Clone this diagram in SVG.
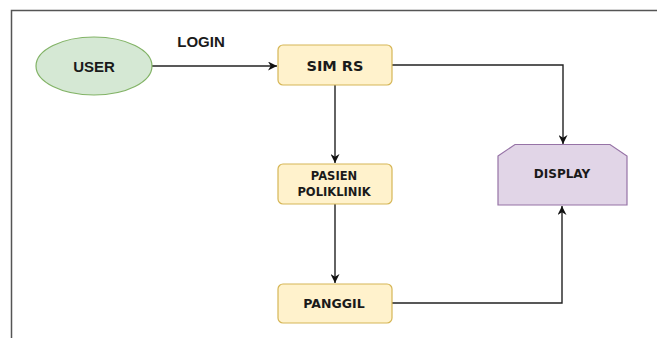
<svg xmlns="http://www.w3.org/2000/svg" width="657" height="338" viewBox="0 0 657 338">
<defs>
<style>
.frame{stroke:#555;stroke-width:1.5;fill:none}
.edge{stroke:#222;stroke-width:1.4;fill:none}
.proc{fill:#fff2cc;stroke:#d6b656;stroke-width:1.2}
.t{font-family:"DejaVu Sans",Verdana,sans-serif;font-weight:bold;fill:#1a1a1a;text-anchor:middle}
.a{font-family:"Liberation Sans",Arial,sans-serif;font-weight:bold;fill:#1a1a1a;text-anchor:middle}
</style>
<marker id="arr" viewBox="0 0 10 10" refX="10" refY="5" markerWidth="9" markerHeight="9" markerUnits="userSpaceOnUse" orient="auto">
<path d="M0,0 L10,5 L0,10 L3,5 Z" fill="#111"/>
</marker>
</defs>
<rect width="657" height="338" fill="#fff"/>
<path class="frame" d="M11.5,338 V10.5 H657"/>
<g id="connectors">
<path class="edge" d="M152,66 H277" marker-end="url(#arr)"/>
<path class="edge" d="M392,65 H563 V144" marker-end="url(#arr)"/>
<path class="edge" d="M335,85 V163" marker-end="url(#arr)"/>
<path class="edge" d="M335,204 V283" marker-end="url(#arr)"/>
<path class="edge" d="M392,303 H562 V206" marker-end="url(#arr)"/>
<text class="a" x="201" y="47" font-size="15">LOGIN</text>
</g>
<g id="user">
<ellipse cx="94" cy="66" rx="58" ry="29" fill="#d5e8d4" stroke="#82b366" stroke-width="1.2"/>
<text class="a" x="94" y="71.5" font-size="15">USER</text>
</g>
<g id="simrs">
<rect class="proc" x="278" y="45" width="114" height="40" rx="5"/>
<text class="t" x="335" y="70.5" font-size="14.5">SIM RS</text>
</g>
<g id="pasien">
<rect class="proc" x="278" y="164" width="114" height="40" rx="5"/>
<text class="t" x="334" y="180" font-size="11.5">PASIEN</text>
<text class="t" x="334" y="196" font-size="11.5">POLIKLINIK</text>
</g>
<g id="panggil">
<rect class="proc" x="278" y="284" width="114" height="39" rx="5"/>
<text class="t" x="334" y="308" font-size="12.5">PANGGIL</text>
</g>
<g id="display">
<path d="M498,156 L515,144.5 H610 L627,156 V205 H498 Z" fill="#e1d5e7" stroke="#9673a6" stroke-width="1.2"/>
<text class="t" x="562" y="177.5" font-size="12">DISPLAY</text>
</g>
</svg>
